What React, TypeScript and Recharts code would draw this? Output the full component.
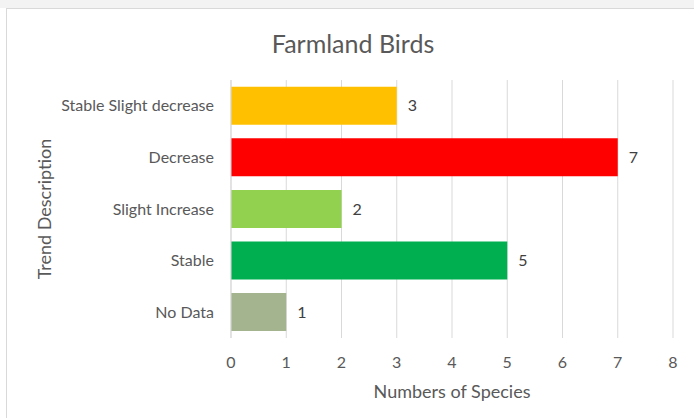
import React from "react";
import { BarChart, Bar, XAxis, YAxis, CartesianGrid, Cell, LabelList, Label } from "recharts";

const categories = ["Stable Slight decrease", "Decrease", "Slight Increase", "Stable", "No Data"];
const speciesCounts = [3, 7, 2, 5, 1];
const barColors = ["#FFC000", "#FF0000", "#92D050", "#00B050", "#A3B48E"];
const xTicks = [0, 1, 2, 3, 4, 5, 6, 7, 8];

const chartTitle = "Farmland Birds";
const xTitle = "Numbers of Species";
const yTitle = "Trend Description";

const data = categories.map((name, i) => ({ name, value: speciesCounts[i] }));

const FONT = "Lato, 'Open Sans', sans-serif";
const TEXT = "#595959";

export default function App() {
  return (
    <div style={{ position: "absolute", left: 0, top: 0, width: 694, height: 418, overflow: "hidden", background: "#ffffff", fontFamily: FONT }}>
      <div style={{ position: "absolute", left: 0, top: 0, width: 694, height: 8, background: "#f3f3f3" }} />
      <div style={{ position: "absolute", left: 6, top: 8, width: 720, height: 440, border: "1px solid #d9d9d9", boxSizing: "border-box" }} />
      <div style={{ position: "absolute", left: 0, top: 27, width: 706, textAlign: "center", fontSize: 25, color: TEXT, lineHeight: "32px" }}>
        {chartTitle}
      </div>
      <div style={{ position: "absolute", left: 0, top: 0 }}>
        <BarChart
          width={694}
          height={418}
          data={data}
          layout="vertical"
          margin={{ top: 80, right: 21, bottom: 0, left: 0 }}
          barCategoryGap="13%"
        >
          <CartesianGrid horizontal={false} stroke="#d9d9d9" />
          <XAxis
            type="number"
            domain={[0, 8]}
            ticks={xTicks}
            height={80}
            axisLine={false}
            tickLine={false}
            tickSize={0}
            tickMargin={19}
            tick={{ fill: TEXT, fontSize: 16, fontFamily: FONT }}
          >
            <Label value={xTitle} position="insideBottom" offset={20} fill={TEXT} fontSize={18} fontFamily={FONT} />
          </XAxis>
          <YAxis
            type="category"
            dataKey="name"
            width={231}
            axisLine={{ stroke: "#d9d9d9" }}
            tickLine={false}
            tickSize={0}
            tickMargin={17}
            tick={{ fill: TEXT, fontSize: 16, fontFamily: FONT }}
          >
            <Label
              content={(props: any) => {
                const vb = props.viewBox || { x: 0, y: 0, height: 0 };
                const cx = 44;
                const cy = vb.y + vb.height / 2;
                return (
                  <text
                    x={cx}
                    y={cy}
                    transform={`rotate(-90 ${cx} ${cy})`}
                    textAnchor="middle"
                    dominantBaseline="central"
                    fill={TEXT}
                    fontSize={18}
                    fontFamily={FONT}
                  >
                    {yTitle}
                  </text>
                );
              }}
            />
          </YAxis>
          <Bar dataKey="value" isAnimationActive={false}>
            {data.map((d, i) => (
              <Cell key={d.name} fill={barColors[i]} />
            ))}
            <LabelList dataKey="value" position="right" offset={11} fill="#404040" fontSize={16} fontFamily={FONT} />
          </Bar>
        </BarChart>
      </div>
    </div>
  );
}
